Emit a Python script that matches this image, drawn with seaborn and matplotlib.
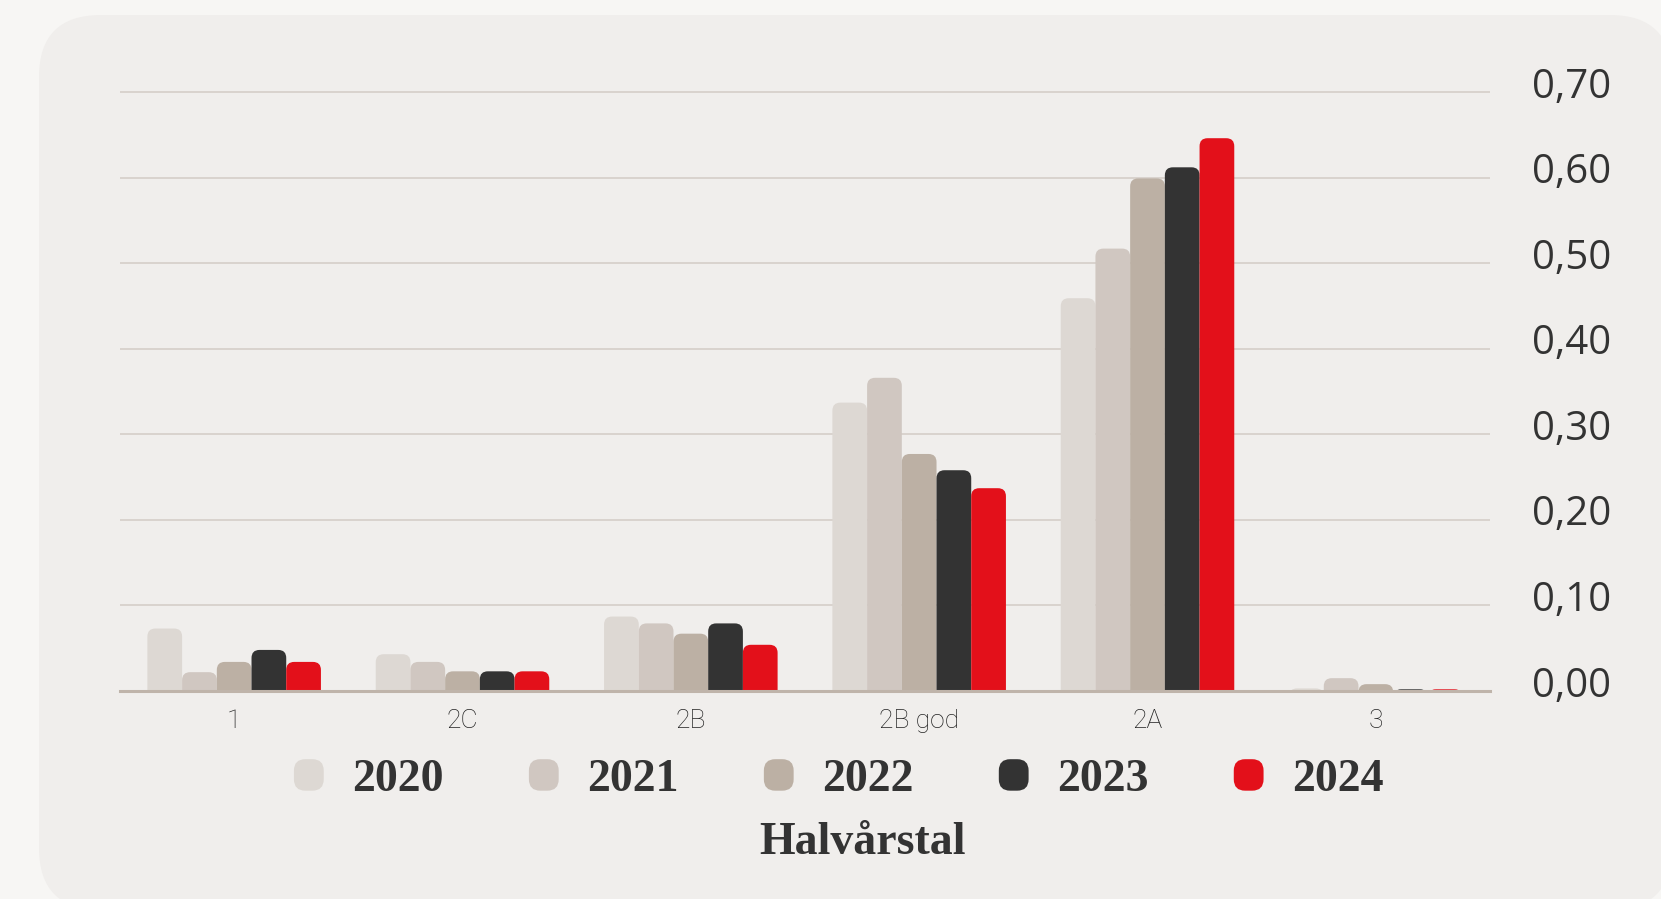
import matplotlib
matplotlib.use("Agg")
import matplotlib.pyplot as plt
import pandas as pd
import seaborn as sns
from matplotlib.font_manager import FontProperties
from matplotlib.legend_handler import HandlerPatch
from matplotlib.patches import FancyBboxPatch, Patch
from matplotlib.transforms import IdentityTransform, ScaledTranslation

categories = ["1", "2C", "2B", "2B god", "2A", "3"]
years = ["2020", "2021", "2022", "2023", "2024"]
values_2020 = [0.073, 0.043, 0.087, 0.337, 0.459, 0.003]
values_2021 = [0.022, 0.034, 0.079, 0.366, 0.517, 0.015]
values_2022 = [0.034, 0.023, 0.067, 0.277, 0.599, 0.008]
values_2023 = [0.048, 0.023, 0.079, 0.258, 0.612, 0.002]
values_2024 = [0.034, 0.023, 0.054, 0.237, 0.646, 0.002]
colors = ["#DDD8D3", "#D0C7C1", "#BCB0A4", "#333333", "#E3101A"]
y_ticks = [0.0, 0.1, 0.2, 0.3, 0.4, 0.5, 0.6, 0.7]
y_tick_labels = ["0,00", "0,10", "0,20", "0,30", "0,40", "0,50", "0,60", "0,70"]
x_title = "Halvårstal"

TEXT = "#333333"
W, H = 1661, 899


class RoundedHandle(HandlerPatch):
    def create_artists(self, legend, orig_handle, xdescent, ydescent,
                       width, height, fontsize, trans):
        box = FancyBboxPatch(
            (-xdescent, -ydescent), width, height,
            boxstyle=f"round,pad=0,rounding_size={width * 0.38}",
            facecolor=orig_handle.get_facecolor(), edgecolor="none",
            transform=trans,
        )
        return [box]


series = [values_2020, values_2021, values_2022, values_2023, values_2024]
rows = []
for year, vals in zip(years, series):
    for cat, v in zip(categories, vals):
        rows.append({"category": cat, "year": year, "value": v})
df = pd.DataFrame(rows)

fig = plt.figure(figsize=(W / 100, H / 100), dpi=100, facecolor="#F7F6F4")
fig.add_artist(FancyBboxPatch(
    (39, -11), 1633, 895, boxstyle="round,pad=0,rounding_size=62",
    transform=IdentityTransform(), facecolor="#F0EEEC", edgecolor="none",
    zorder=-10,
))

ymax = 0.702
top_px = 92 - (ymax - 0.7) / (0.7 / 599)
ax = fig.add_axes([120 / W, 1 - 691 / H, 1370 / W, (691 - top_px) / H])
ax.set_facecolor("none")

sns.barplot(
    data=df, x="category", y="value", hue="year",
    order=categories, hue_order=years, palette=colors,
    saturation=1, width=0.76, gap=0, errorbar=None,
    linewidth=0, legend=False, ax=ax,
)
ax.set_xlim(-0.5, 5.5)
ax.set_ylim(0, ymax)

# swap plain bars for bars with rounded tops
x_per_px = 6 / 1370
y_per_px = ymax / (691 - top_px)
aspect = y_per_px / x_per_px
rx = 8 * x_per_px
ry = rx * aspect
for container in ax.containers:
    for bar in container:
        x, w, h = bar.get_x(), bar.get_width(), bar.get_height()
        bar.set_visible(False)
        ax.add_patch(FancyBboxPatch(
            (x, -2 * ry), w, h + 2 * ry,
            boxstyle=f"round,pad=0,rounding_size={rx}",
            mutation_aspect=aspect, facecolor=bar.get_facecolor(),
            edgecolor="none", zorder=1,
        ))

ax.yaxis.tick_right()
ax.set_yticks(y_ticks, labels=y_tick_labels, fontsize=29,
              family="Open Sans", color=TEXT)
ax.set_xticks(range(len(categories)), labels=categories, fontsize=19,
              family="Roboto", fontweight="light", color="#222222")
ax.tick_params(axis="y", length=0, pad=30)
ax.tick_params(axis="x", length=0, pad=13)
ax.yaxis.grid(True, color="#D5CEC8", linewidth=1.2)
ax.set_axisbelow(True)
for side in ["top", "left", "right"]:
    ax.spines[side].set_visible(False)
ax.spines["bottom"].set_color("#BFB4AA")
ax.spines["bottom"].set_linewidth(2.2)
ax.spines["bottom"].set_zorder(3)
ax.set_xlabel("")
ax.set_ylabel("")

# value labels sit a little above their gridlines
shift = ScaledTranslation(0, 7 / 72, fig.dpi_scale_trans)
for tick in ax.yaxis.get_major_ticks():
    tick.label2.set_transform(tick.label2.get_transform() + shift)

serif = FontProperties(family="Liberation Serif", weight="bold", size=33)
handles = [Patch(facecolor=c) for c in colors]
fig.legend(
    handles, years, loc="center", bbox_to_anchor=(839 / W, 1 - 780 / H),
    ncol=5, frameon=False, prop=serif, labelcolor=TEXT,
    handlelength=0.65, handleheight=0.68, handletextpad=0.63,
    columnspacing=1.85, handler_map={Patch: RoundedHandle()},
)
fig.text(862 / W, 1 - 843 / H, x_title, ha="center", va="center",
         fontproperties=serif, color=TEXT)

fig.savefig("out.png", dpi=100)
